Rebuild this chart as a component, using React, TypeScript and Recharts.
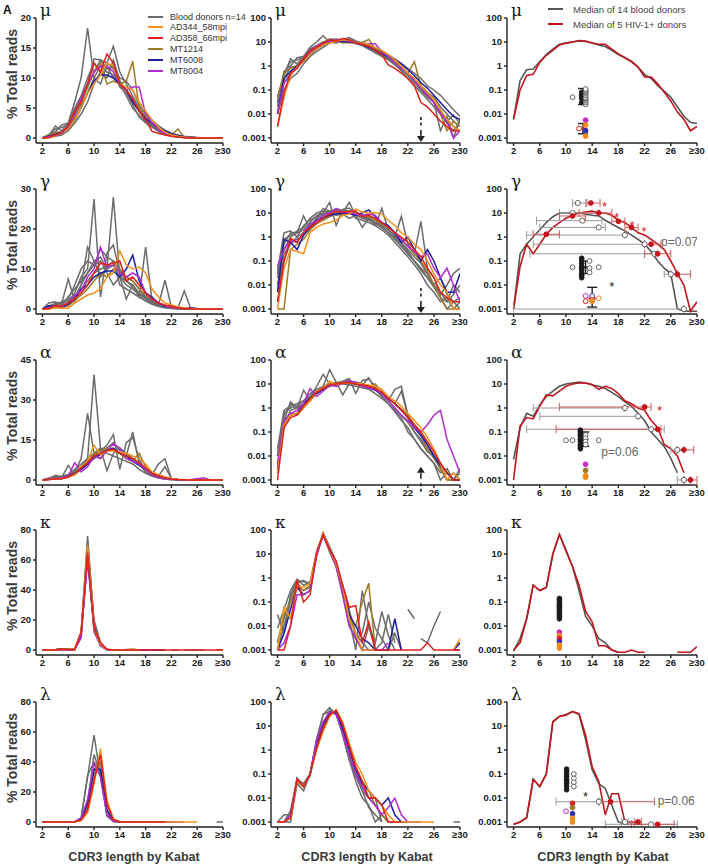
import React from 'react';
import { ComposedChart, Line, XAxis, YAxis, Scatter, ErrorBar, ReferenceDot } from 'recharts';

// CDR3 length (Kabat), last bucket is ">=30"
const lengths = [2, 3, 4, 5, 6, 7, 8, 9, 10, 11, 12, 13, 14, 15, 16, 17, 18, 19, 20, 21, 22, 23, 24, 25, 26, 27, 28, 29, 30];
const xTicks = [2, 6, 10, 14, 18, 22, 26, 30];
const logTicks = [0.001, 0.01, 0.1, 1, 10, 100];

const patients = ['AD344_58mpi', 'AD358_66mpi', 'MT1214', 'MT6008', 'MT8004'];
const patientColors = ['#f0921e', '#e0201b', '#9c7a28', '#1e1ea0', '#b02ed0'];
const drawOrder = [2, 3, 4, 0, 1];
const donorLabel = 'Blood donors n=14';
const donorColor = '#6c6c6c';
const medianLabels = ['Median of 14 blood donors', 'Median of 5 HIV-1+ donors'];
const medianColors = ['#555555', '#c3161c'];

type V = number | null;

// ---------- mu ----------
const muTicks = [0, 5, 10, 15, 20];
const muDonors: V[][] = [
  [0.05, 0.4, 2, 1.2, 2.5, 6, 10, 18.3, 10, 9, 12, 10, 9, 8, 6, 4.5, 3, 2, 1.2, 0.6, 0.3, 0.15, 0.08, 0.04, 0.02, 0.01, 0.006, 0.003, 0.002],
  [0.03, 0.6, 1, 2.2, 2.5, 5, 7, 9, 13.2, 13, 12.5, 15.3, 11, 9, 7, 5, 3.5, 2.5, 1.5, 0.9, 0.5, 0.3, 0.15, 0.08, 0.05, 0.02, 0.01, 0.005, 0.003],
  [0.02, 0.3, 0.9, 1, 2, 4.5, 7, 10, 12.5, 11, 10, 13, 9.5, 8, 6.5, 4.5, 3, 2.2, 1.4, 0.8, 0.4, 0.2, 0.1, 0.05, 0.03, 0.002, 0.008, 0.001, 0.006],
  [0.01, 0.2, 0.5, 0.8, 1.8, 3.5, 6, 8.5, 11, 13, 11.5, 12, 8.5, 7.5, 5.5, 3.5, 2.5, 1.8, 1.1, 0.7, 0.4, 0.25, 0.12, 0.07, 0.03, 0.015, 0.005, 0.009, 0.004],
  [0.03, 0.5, 1.5, 1.8, 2.2, 4, 5.5, 7.5, 10, 12, 11, 10.5, 9, 7, 5, 3.8, 2.8, 2, 1.3, 0.8, 0.4, 0.2, 0.1, 0.06, 0.03, 0.012, 0.004, 0.002, 0.005],
  [0.01, 0.1, 0.3, 0.5, 1.2, 2.5, 4, 6, 9, 11, 12.5, 11.5, 10, 9.5, 8, 5.5, 4, 3, 2, 1.3, 0.8, 0.5, 0.3, 0.15, 0.1, 0.06, 0.03, 0.015, 0.008],
];
const muPatients: V[][] = [
  [0.003, 0.05, 0.4, 0.9, 1.5, 3, 5, 7.5, 9, 10.5, 12.5, 12, 9, 8.5, 8, 6, 4.5, 3, 1.8, 1, 0.5, 0.3, 0.15, 0.08, 0.04, 0.015, 0.006, 0.003, 0.002],
  [0.003, 0.08, 0.5, 0.8, 2, 4.5, 6, 9, 12.5, 11, 14, 12.5, 9, 8, 6.5, 4.5, 3, 1.1, 0.8, 0.5, 0.3, 0.15, 0.03, 0.02, 0.01, 0.005, 0.003, 0.002, 0.002],
  [0.05, 0.5, 0.8, 1, 2, 3.5, 6, 8.5, 11, 12.5, 9, 9.5, 9, 9.5, 12.8, 5, 3.5, 2.5, 1.5, 0.8, 0.5, 1.5, 0.15, 0.08, 0.03, 0.01, 0.002, 0.005, 0.003],
  [0.01, 0.3, 0.6, 1, 1.5, 3, 5, 7.5, 9.5, 10.5, 10.5, 10, 9, 8, 6, 4.5, 3.2, 2.5, 1.8, 1.2, 0.7, 0.4, 0.2, 0.12, 0.06, 0.03, 0.015, 0.008, 0.006],
  [0.01, 0.2, 0.4, 0.9, 2, 4, 6.5, 9, 11, 12, 12, 11, 9, 8, 8.5, 8.5, 4, 2.5, 1.3, 0.8, 0.5, 0.25, 0.12, 0.06, 0.03, 0.01, 0.005, 0.001, 0.002],
];
const muMedianDonors: V[] = [0.006, 0.25, 0.7, 0.75, 1.5, 3, 5, 8, 9, 10, 11, 10.5, 9, 7.5, 6.5, 4.5, 3, 2.2, 1.6, 0.9, 0.45, 0.3, 0.15, 0.09, 0.05, 0.02, 0.008, 0.0045, 0.004];
const muMedianHiv: V[] = [0.006, 0.1, 0.4, 0.45, 1.4, 2.8, 4.5, 7.5, 9, 10, 11.5, 11, 9, 8, 8, 5, 3.2, 2.2, 1.5, 0.9, 0.35, 0.35, 0.18, 0.08, 0.035, 0.012, 0.006, 0.002, 0.003];
const muOpen = [
  { x: 13, y: 0.025 }, { x: 13, y: 0.03 }, { x: 13, y: 0.035 }, { x: 13, y: 0.04 }, { x: 13, y: 0.045 }, { x: 13, y: 0.05 },
  { x: 13, y: 0.06 }, { x: 13, y: 0.07 }, { x: 13, y: 0.08 }, { x: 13, y: 0.09 }, { x: 13, y: 0.1 }, { x: 13, y: 0.11 }, { x: 11, y: 0.05 },
];
const muDense = [{ x: 12.4, y: 0.03 }, { x: 12.4, y: 0.045 }, { x: 12.4, y: 0.06 }, { x: 12.4, y: 0.08 }];
const muDots = [
  { x: 13, y: 0.0055, c: '#c030c0' }, { x: 13, y: 0.0035, c: '#f08a1e' }, { x: 13, y: 0.002, c: '#3030b0' },
  { x: 13, y: 0.0012, c: '#f08a1e' }, { x: 12, y: 0.0025, c: '#e02020', open: true },
];
const muSd = [{ x: 12.6, y: 0.055, lo: 0.025, hi: 0.115, c: '#111' }, { x: 12.6, y: 0.0025, lo: 0.0015, hi: 0.004, c: '#e02020' }];

// ---------- gamma ----------
const gaTicks = [0, 10, 20, 30];
const gaDonors: V[][] = [
  [0.02, 0.5, 1.5, 1.5, 7.5, 2, 6, 15.5, 12, 8, 10, 11, 8, 7, 6, 4, 2.5, 1.5, 0.8, 0.5, 0.25, 0.1, 0.05, 0.02, 0.01, 0.005, 0.002, 0.01, 0.005],
  [0.01, 0.3, 1, 1.5, 2, 4, 8, 10, 27.5, 3, 14, 16, 9, 7, 5.5, 4, 3, 2, 1, 0.5, 0.2, 0.1, 0.05, 0.03, 0.01, 0.003, 0.001, 0.002, 0.003],
  [0.005, 0.2, 0.5, 1, 1.5, 3, 6, 9, 12, 13, 10, 28, 8, 2.5, 6, 3, 15.5, 2, 1, 7.2, 0.5, 0.2, 4.5, 0.05, 0.02, 0.004, 0.01, 0.03, 0.05],
  [0.03, 0.8, 1.2, 1.8, 2.5, 6, 10, 12, 11, 15, 13, 12, 6, 5, 4, 3, 2, 1.2, 0.6, 0.3, 0.15, 0.07, 0.03, 0.01, 0.005, 0.002, 0.003, 0.001, 0.002],
  [0.002, 0.1, 0.6, 0.8, 1.2, 2.5, 5, 7, 9, 10, 10.5, 12, 9.5, 8, 7, 5, 3, 2, 1.2, 0.6, 0.3, 0.15, 0.08, 0.03, 0.01, 0.02, 0.004, 0.002, 0.001],
  [0.04, 1.5, 1.8, 1, 3, 5, 7, 9, 11, 12, 9, 6, 8, 6, 5, 3.5, 2.5, 1.5, 0.8, 0.4, 0.2, 0.1, 0.04, 0.02, 0.008, 0.003, 0.002, 0.004, 0.01],
];
const gaPatients: V[][] = [
  [0.001, 0.05, 0.3, 0.25, 0.2, 1.5, 2.5, 3.5, 4, 5, 8, 9, 14.5, 11, 10, 10.5, 9, 5, 3, 1.5, 1, 0.5, 0.3, 0.1, 0.03, 0.01, 0.005, 0.001, 0.001],
  [0.002, 0.1, 0.9, 0.6, 1.5, 2.5, 4, 6, 9, 11.5, 11, 11.5, 12, 7, 8, 6, 4, 2.5, 1.5, 1, 0.6, 0.3, 0.15, 0.05, 0.02, 0.005, 0.003, 0.002, 0.002],
  [0.001, 0.001, 0.3, 0.5, 0.8, 2, 3.5, 5, 7, 9, 8, 10, 10, 8, 7, 5, 3.5, 2.5, 1.5, 0.8, 0.4, 0.2, 0.1, 0.04, 0.01, 0.003, 0.001, 0.001, 0.001],
  [0.005, 0.8, 0.6, 0.3, 1.2, 2.5, 5, 6, 8, 9, 9.5, 9.5, 8, 10, 13.5, 7, 4, 3, 1.5, 0.6, 1, 0.3, 0.1, 0.3, 0.1, 0.02, 0.005, 0.005, 0.03],
  [0.06, 0.3, 0.7, 0.6, 1.5, 3.5, 4.5, 8, 10, 15.5, 10.5, 11, 9, 8, 9, 8, 4, 2.5, 1.5, 0.8, 0.4, 0.25, 0.15, 0.2, 0.05, 0.02, 0.05, 0.01, 0.002],
];
const gaMedianDonors: V[] = [0.001, 0.2, 0.5, 1, 2, 4, 7, 10, 10, 10, 10, 9, 8, 7.5, 5, 3.5, 2.5, 1.8, 1.2, 0.8, 0.5, 0.25, 0.1, 0.05, 0.03, 0.001, 0.0008, 0.0008, 0.0008];
const gaMedianHiv: V[] = [0.001, 0.06, 0.5, 0.2, 0.5, 1.3, 2.5, 4, 6, 8, 10, 11, 12, 10, 10, 8, 5, 4, 2.5, 1.5, 1.2, 0.8, 0.5, 0.3, 0.1, 0.03, 0.01, 0.0008, 0.002];
const gaOpen = [{ x: 11, y: 0.055 }, { x: 13.6, y: 0.1 }, { x: 13.6, y: 0.05 }, { x: 13.6, y: 0.033 }, { x: 15, y: 0.055 }];
const gaDense = [
  { x: 12.4, y: 0.02 }, { x: 12.4, y: 0.025 }, { x: 12.4, y: 0.03 }, { x: 12.4, y: 0.04 }, { x: 12.4, y: 0.05 },
  { x: 12.4, y: 0.06 }, { x: 12.4, y: 0.08 }, { x: 12.4, y: 0.1 }, { x: 12.4, y: 0.13 },
];
const gaDots = [
  { x: 13, y: 0.0035, c: '#c030c0', open: true }, { x: 13, y: 0.0021, c: '#e02020', open: true },
  { x: 14, y: 0.0035, c: '#3030b0', open: true }, { x: 14, y: 0.0024, c: '#e02020', open: true },
  { x: 14, y: 0.0021, c: '#f08a1e' }, { x: 15, y: 0.0028, c: '#f08a1e', open: true },
];
const gaSd = [{ x: 13, y: 0.055, lo: 0.03, hi: 0.1, c: '#111' }, { x: 14, y: 0.0028, lo: 0.0012, hi: 0.008, c: '#e02020' }];
const gaGrayMarks = [
  { x: 11.8, y: 26, lo: 11, hi: 13 }, { x: 11, y: 10, lo: 9, hi: 15 }, { x: 12.5, y: 4.8, lo: 5.5, hi: 15.5 },
  { x: 15, y: 2.5, lo: 6, hi: 16 }, { x: 19, y: 1.2, lo: 4, hi: 19 }, { x: 22, y: 0.5, lo: 5, hi: 22 },
  { x: 23.5, y: 0.2, lo: 4.5, hi: 24 }, { x: 26, y: 0.028, lo: 25, hi: 27 }, { x: 28, y: 0.001, lo: 2, hi: 28 },
];
const gaRedMarks = [
  { x: 13.8, y: 26, lo: 13.2, hi: 15.2 }, { x: 11, y: 7.5, lo: 9, hi: 13 }, { x: 15, y: 10, lo: 12, hi: 17 },
  { x: 18, y: 4.5, lo: 17, hi: 19 }, { x: 20, y: 2.5, lo: 19, hi: 21 }, { x: 7, y: 1.3, lo: 5, hi: 9 },
  { x: 23, y: 0.5, lo: 22, hi: 24.5 }, { x: 24, y: 0.2, lo: 22, hi: 26 }, { x: 27, y: 0.028, lo: 26, hi: 29 },
];
const gaNotes = [
  { x: 15.9, y: 26, t: '*', c: '#d0201c' }, { x: 17.7, y: 9, t: '*', c: '#d0201c' }, { x: 20.1, y: 4.3, t: '*', c: '#d0201c' },
  { x: 21.9, y: 2.3, t: '*', c: '#d0201c' }, { x: 17, y: 0.012, t: '*', c: '#222' }, { x: 24.5, y: 0.65, t: 'p=0.07', c: '#666' },
];

// ---------- alpha ----------
const alTicks = [0, 15, 30, 45];
const alDonors: V[][] = [
  [0.01, 0.5, 1.5, 1, 1.5, 3, 8, 25, 10, 8, 12, 11, 10, 9, 18, 6, 3, 1.5, 0.8, 0.4, 0.1, 0.05, 0.02, 0.01, 0.005, 0.002, 0.003, 0.001, 0.001],
  [0.005, 0.3, 1.8, 1, 5.5, 2, 5, 8, 39.5, 12, 10, 9, 8, 7, 6, 4, 2.5, 1.5, 0.7, 0.3, 0.15, 0.05, 0.02, 0.01, 0.005, 0.001, 0.002, 0.001, 0.002],
  [0.02, 0.8, 1.2, 1.5, 2, 3, 5, 7, 9, 11, 13, 17, 4, 14, 16, 8, 3, 2, 6, 8, 0.5, 0.1, 0.05, 0.02, 0.008, 0.003, 0.001, 0.002, 0.001],
  [0.01, 0.6, 1, 1.2, 2, 4, 6, 8, 10, 12, 3.5, 10, 12, 10, 8, 6, 4, 2.5, 1.5, 5, 0.5, 0.2, 0.1, 0.03, 0.01, 0.005, 0.002, 0.001, 0.003],
  [0.003, 0.2, 0.8, 1, 1.5, 2.5, 4.5, 6, 8, 10, 12, 14, 11, 10, 8, 6, 4, 2, 1, 0.5, 0.25, 0.1, 0.04, 0.015, 0.01, 0.003, 0.001, 0.001, 0.001],
];
const alPatients: V[][] = [
  [0.002, 0.2, 0.5, 0.6, 1, 2, 5, 7, 13, 9.5, 11, 11, 10.5, 10, 9, 8, 6, 3, 2, 1.2, 0.6, 0.3, 0.15, 0.06, 0.02, 0.005, 0.001, 0.002, 0.001],
  [0.001, 0.15, 0.4, 0.5, 1.2, 2.5, 4.5, 6.5, 9, 10, 11, 11.5, 10, 9, 8, 6.5, 4.5, 2.5, 1.5, 0.8, 0.4, 0.2, 0.1, 0.04, 0.015, 0.005, 0.002, 0.001, 0.001],
  [0.003, 0.3, 0.6, 0.5, 1, 2, 4, 6, 10, 11, 12, 11, 10, 8, 7, 10, 5, 2.5, 1.5, 0.9, 0.5, 0.2, 0.08, 0.02, 0.01, 0.003, 0.001, 0.001, 0.001],
  [0.002, 0.2, 0.5, 0.6, 1.5, 2.5, 4, 6, 8.5, 9.5, 11, 12, 10, 9, 7, 5.5, 4, 2.5, 1.5, 0.8, 0.4, 0.15, 0.07, 0.03, 0.01, 0.004, 0.002, 0.001, 0.001],
  [0.004, 0.3, 0.6, 0.8, 1.5, 6.5, 3, 5, 9, 8, 11, 13.5, 12, 8, 7, 6, 4, 2, 1, 0.5, 0.3, 0.15, 0.1, 0.2, 0.5, 0.8, 0.05, 0.01, 0.002],
];
const alMedianDonors: V[] = [0.007, 0.15, 0.6, 0.45, 1.3, 3, 5, 8, 10, 11, 12, 11, 9, 8, 6.5, 4.5, 3, 1.8, 1.2, 0.6, 0.3, 0.1, 0.05, 0.025, 0.008, 0.002, null, null, null];
const alMedianHiv: V[] = [0.001, 0.18, 0.4, 0.35, 1.2, 3.5, 3.2, 5, 8, 10, 11, 11, 9.5, 6, 8, 6.5, 4, 2, 1.5, 1, 0.8, 0.3, 0.15, 0.03, 0.02, 0.01, 0.002, null, null];
const alOpen = [{ x: 10, y: 0.045 }, { x: 11, y: 0.045 }, { x: 13, y: 0.075 }, { x: 13, y: 0.055 }, { x: 13, y: 0.04 }, { x: 13, y: 0.03 }, { x: 15, y: 0.045 }];
const alDense = [
  { x: 12.2, y: 0.02 }, { x: 12.2, y: 0.025 }, { x: 12.2, y: 0.03 }, { x: 12.2, y: 0.04 }, { x: 12.2, y: 0.05 },
  { x: 12.2, y: 0.065 }, { x: 12.2, y: 0.08 }, { x: 12.2, y: 0.1 }, { x: 12.2, y: 0.12 },
];
const alDots = [
  { x: 13, y: 0.0045, c: '#c030c0' }, { x: 13, y: 0.0025, c: '#9c7a28' }, { x: 13, y: 0.0015, c: '#f08a1e' }, { x: 13, y: 0.0013, c: '#f08a1e' },
];
const alSd = [{ x: 12.8, y: 0.05, lo: 0.025, hi: 0.1, c: '#111' }];
const alGrayMarks = [
  { x: 19, y: 1, lo: 5, hi: 19 }, { x: 21, y: 0.45, lo: 6, hi: 21 }, { x: 23, y: 0.13, lo: 4, hi: 25 },
  { x: 27, y: 0.018, lo: 26, hi: 28 }, { x: 28, y: 0.001, lo: 27, hi: 29 },
];
const alRedMarks = [
  { x: 22, y: 1.1, lo: 9, hi: 23 }, { x: 24, y: 0.13, lo: 8.5, hi: 24.5 }, { x: 28, y: 0.018, lo: 27, hi: 29.5 }, { x: 29, y: 0.001, lo: 28, hi: 30 },
];
const alNotes = [{ x: 24.3, y: 1.1, t: '*', c: '#d0201c' }, { x: 15.4, y: 0.0144, t: 'p=0.06', c: '#666' }];

// ---------- kappa ----------
const kaTicks = [0, 20, 40, 60, 80];
const kaDonors: V[][] = [
  [0.03, 0.005, 0.2, 0.8, 0.7, 0.6, 12, 76, 18, 4, 0.5, 0.05, 0.003, 0.001, 0.01, 0.002, 0.04, 0.004, 0.001, null, 0.05, 0.02, null, null, null, null, null, null, null],
  [0.002, 0.02, 0.15, 0.6, 0.8, 0.5, 10, 70, 20, 5, 0.4, 0.02, 0.001, 0.3, 0.01, 0.001, 0.002, 0.03, 0.002, null, null, null, null, 0.002, 0.01, 0.04, null, null, null],
  [0.008, 0.05, 0.3, 0.9, 0.5, 0.7, 11, 65, 12, 3, 0.2, 0.01, 0.003, 0.005, 0.1, 0.008, 0.003, 0.001, 0.005, 0.001, null, null, null, null, null, null, null, 0.001, 0.002],
  [0.001, 0.01, 0.1, 0.4, 0.3, 0.4, 9, 72, 15, 3, 0.3, 0.04, 0.005, 0.002, 0.001, 0.001, null, null, null, null, null, null, 0.003, 0.002, null, null, null, null, 0.001],
];
const kaPatients: V[][] = [
  [0.001, 0.06, 0.02, 0.5, 0.4, 0.6, 12, 70, 15, 4, 0.4, 0.02, 0.005, 0.001, 0.001, 0.001, null, null, null, null, null, null, null, null, null, null, null, 0.001, 0.003],
  [0.001, 0.001, 0.01, 0.8, 0.1, 0.2, 12, 65, 15, 5, 0.5, 0.06, 0.07, 0.002, 0.015, 0.001, 0.001, 0.001, 0.001, 0.001, 0.001, 0.001, 0.001, 0.002, 0.001, 0.001, 0.001, 0.001, 0.001],
  [0.002, 0.03, 0.1, 0.5, 0.3, 0.5, 11, 68, 14, 3, 0.3, 0.02, 0.01, 0.1, 0.6, 0.001, null, null, null, null, null, null, null, null, null, null, null, null, null],
  [0.001, 0.005, 0.05, 0.4, 0.2, 0.3, 10, 60, 15, 3.5, 0.3, 0.03, 0.01, 0.003, 0.002, 0.001, 0.001, 0.001, 0.02, 0.001, null, null, null, null, null, null, null, 0.001, 0.002],
  [0.001, 0.002, 0.01, 0.2, 0.2, 0.3, 8, 62, 14, 3, 0.2, 0.01, 0.003, 0.001, 0.001, 0.001, 0.001, 0.002, null, null, null, null, null, null, null, null, null, 0.001, 0.001],
];
const kaMedianDonors: V[] = [0.0009, 0.003, 0.02, 0.5, 0.3, 0.4, 10, 65, 15, 3, 0.3, 0.025, 0.01, 0.003, 0.002, 0.001, 0.0008, null, null, null, null, null, null, null, null, null, null, null, null];
const kaMedianHiv: V[] = [0.001, 0.002, 0.02, 0.5, 0.3, 0.4, 10, 65, 13, 3, 0.5, 0.04, 0.015, 0.0015, 0.0015, 0.001, 0.0008, 0.0008, 0.001, 0.0008, 0.0008, null, null, null, null, 0.0008, 0.0008, 0.0008, 0.0014];
const kaOpen: { x: number; y: number }[] = [];
const kaDense = [
  { x: 9, y: 0.02 }, { x: 9, y: 0.025 }, { x: 9, y: 0.03 }, { x: 9, y: 0.035 }, { x: 9, y: 0.04 }, { x: 9, y: 0.05 },
  { x: 9, y: 0.06 }, { x: 9, y: 0.07 }, { x: 9, y: 0.08 }, { x: 9, y: 0.1 }, { x: 9, y: 0.12 }, { x: 9, y: 0.14 },
];
const kaDots = [
  { x: 9, y: 0.0055, c: '#c030c0' }, { x: 9, y: 0.004, c: '#f08a1e' }, { x: 9, y: 0.003, c: '#e02020' },
  { x: 9, y: 0.0022, c: '#3030b0' }, { x: 9, y: 0.0016, c: '#f08a1e' }, { x: 9, y: 0.0012, c: '#f08a1e' },
];

// ---------- lambda ----------
const laTicks = [0, 20, 40, 60, 80];
const laDonors: V[][] = [
  [0.001, 0.001, 0.002, 0.05, 0.03, 0.1, 3, 30, 58, 30, 5, 0.5, 0.1, 0.03, 0.01, 0.005, 0.002, 0.001, null, null, null, null, null, null, null, null, null, 0.001, 0.001],
  [0.001, 0.001, 0.003, 0.07, 0.03, 0.08, 2, 31, 40, 35, 4, 0.4, 0.05, 0.01, 0.005, 0.001, 0.002, 0.001, 0.001, null, null, null, null, null, null, null, null, null, null],
  [0.001, 0.002, 0.002, 0.06, 0.04, 0.1, 1.5, 8, 35, 40, 8, 0.5, 0.1, 0.02, 0.01, 0.01, 0.001, null, null, null, null, null, null, null, null, null, null, null, null],
  [0.001, 0.001, 0.001, 0.04, 0.02, 0.1, 2.5, 12, 45, 32, 5, 0.4, 0.08, 0.02, 0.004, 0.002, 0.001, null, null, null, null, null, null, null, null, null, null, null, null],
];
const laPatients: V[][] = [
  [0.001, 0.001, 0.0015, 0.05, 0.03, 0.1, 1, 6, 25, 49, 15, 2, 0.3, 0.1, 0.02, 0.01, 0.005, 0.002, 0.001, 0.001, 0.001, 0.001, 0.001, 0.001, 0.001, null, null, null, null],
  [0.001, 0.001, 0.0015, 0.06, 0.03, 0.1, 1.2, 8, 28, 45, 12, 1.5, 0.2, 0.05, 0.01, 0.01, 0.005, 0.001, 0.001, 0.001, null, null, null, null, null, null, null, null, null],
  [0.001, 0.001, 0.002, 0.05, 0.03, 0.1, 1.5, 10, 32, 40, 12, 1.5, 0.2, 0.05, 0.02, 0.005, 0.002, 0.001, null, null, null, null, null, null, null, null, null, null, null],
  [0.001, 0.001, 0.002, 0.05, 0.03, 0.1, 2, 12, 35, 35, 8, 1, 0.15, 0.04, 0.02, 0.01, 0.005, 0.01, 0.002, 0.001, 0.001, null, null, null, null, null, null, null, null],
  [0.001, 0.001, 0.002, 0.06, 0.03, 0.1, 2.5, 15, 39, 30, 5, 0.7, 0.1, 0.03, 0.01, 0.005, 0.002, 0.004, 0.01, 0.002, 0.001, 0.001, 0.001, null, null, null, null, null, null],
];
const laMedianDonors: V[] = [0.0008, 0.001, 0.0015, 0.06, 0.03, 0.1, 15, 25, 30, 40, 30, 2.7, 0.15, 0.04, 0.025, 0.005, 0.001, 0.0008, 0.0008, 0.0008, null, null, null, null, null, null, null, null, null];
const laMedianHiv: V[] = [0.0008, 0.001, 0.0015, 0.06, 0.03, 0.1, 15, 25, 28, 40, 33, 4, 0.2, 0.05, 0.002, 0.015, 0.015, 0.001, 0.001, 0.001, null, null, null, null, null, null, null, null, null];
const laOpen = [{ x: 11.2, y: 0.1 }, { x: 11.2, y: 0.065 }, { x: 11.2, y: 0.045 }, { x: 11.2, y: 0.03 }];
const laDense = [
  { x: 10.1, y: 0.022 }, { x: 10.1, y: 0.03 }, { x: 10.1, y: 0.04 }, { x: 10.1, y: 0.05 }, { x: 10.1, y: 0.06 },
  { x: 10.1, y: 0.08 }, { x: 10.1, y: 0.1 }, { x: 10.1, y: 0.13 }, { x: 10.1, y: 0.16 },
];
const laDots = [
  { x: 11, y: 0.006, c: '#e02020' }, { x: 11, y: 0.004, c: '#9c7a28' }, { x: 10, y: 0.0028, c: '#c030c0', open: true },
  { x: 11, y: 0.0022, c: '#3030b0' }, { x: 11, y: 0.0014, c: '#f08a1e' }, { x: 11, y: 0.001, c: '#f08a1e' },
];
const laGrayMarks = [{ x: 15, y: 0.007, lo: 8.5, hi: 15 }, { x: 19, y: 0.001, lo: 18.5, hi: 19.5 }, { x: 23, y: 0.0008, lo: 16, hi: 27 }];
const laRedMarks = [{ x: 16.8, y: 0.007, lo: 15, hi: 23.5 }, { x: 21, y: 0.001, lo: 20.5, hi: 21.5 }, { x: 24, y: 0.0008, lo: 20, hi: 26.5 }];
const laNotes = [{ x: 13, y: 0.016, t: '*', c: '#222' }, { x: 24, y: 0.008, t: 'p=0.06', c: '#666' }];

// col 2 arrows (length 24)
const arrows = [{ x: 24, y: 0.0012, up: false }, { x: 24, y: 0.0012, up: false }, { x: 24, y: 0.002, up: true }, null, null];

type Mark = { x: number; y: number; lo: number; hi: number };
type Dot = { x: number; y: number; c: string; open?: boolean };
type Note = { x: number; y: number; t: string; c: string };
type Sd = { x: number; y: number; lo: number; hi: number; c: string };

const chains = [
  { label: 'μ', linTicks: muTicks, donors: muDonors, pats: muPatients, medD: muMedianDonors, medH: muMedianHiv, open: muOpen, dense: muDense, dots: muDots as Dot[], sd: muSd as Sd[], gray: [] as Mark[], red: [] as Mark[], notes: [] as Note[] },
  { label: 'γ', linTicks: gaTicks, donors: gaDonors, pats: gaPatients, medD: gaMedianDonors, medH: gaMedianHiv, open: gaOpen, dense: gaDense, dots: gaDots as Dot[], sd: gaSd as Sd[], gray: gaGrayMarks, red: gaRedMarks, notes: gaNotes },
  { label: 'α', linTicks: alTicks, donors: alDonors, pats: alPatients, medD: alMedianDonors, medH: alMedianHiv, open: alOpen, dense: alDense, dots: alDots as Dot[], sd: alSd as Sd[], gray: alGrayMarks, red: alRedMarks, notes: alNotes },
  { label: 'κ', linTicks: kaTicks, donors: kaDonors, pats: kaPatients, medD: kaMedianDonors, medH: kaMedianHiv, open: kaOpen, dense: kaDense, dots: kaDots as Dot[], sd: [] as Sd[], gray: [] as Mark[], red: [] as Mark[], notes: [] as Note[] },
  { label: 'λ', linTicks: laTicks, donors: laDonors, pats: laPatients, medD: laMedianDonors, medH: laMedianHiv, open: laOpen, dense: laDense, dots: laDots as Dot[], sd: [] as Sd[], gray: laGrayMarks, red: laRedMarks, notes: laNotes },
];

// layout
const W = 236;
const COL_LEFT = [0, 236, 472];
const Y_AXIS_W = [36, 35, 35];
const MARGIN_R = [13, 12, 11];
const ROW_TOP = [17.5, 189, 359.5, 529.5, 701.5];
const TOP_PAD = 10;
const PLOT_H = 125;
const X_AXIS_H = 22;
const H = TOP_PAD + PLOT_H + X_AXIS_H + 2;
const LOG_DOMAIN: [number, number] = [0.000618, 100];
const FONT = '"Liberation Sans", Arial, sans-serif';
const tickStyle = { fontSize: 9.5, fontWeight: 700, fill: '#1a1a1a', fontFamily: FONT };
const axisStroke = { stroke: '#222', strokeWidth: 1.4 };

function tableFor(c: (typeof chains)[number]) {
  return lengths.map((x, i) => {
    const r: Record<string, V> = { x };
    c.donors.forEach((d, j) => (r['d' + j] = d[i]));
    c.pats.forEach((p, j) => (r['p' + j] = p[i]));
    r.gm = c.medD[i];
    r.rm = c.medH[i];
    return r;
  });
}

const openShape = (stroke: string, r: number) => (p: any) => (
  <circle cx={p.cx} cy={p.cy} r={r} fill="#fff" stroke={stroke} strokeWidth={0.9} />
);
const denseShape = (p: any) => <circle cx={p.cx} cy={p.cy} r={2.4} fill="#1a1a1a" stroke="#1a1a1a" strokeWidth={0.8} />;
const dotShape = (p: any) => (
  <circle cx={p.cx} cy={p.cy} r={2.4} fill={p.payload.open ? '#fff' : p.payload.c} stroke={p.payload.c} strokeWidth={1} />
);
const redShape = (p: any) => <circle cx={p.cx} cy={p.cy} r={2.4} fill="#c3161c" stroke="#c3161c" />;
const meanShape = (p: any) => (
  <line x1={p.cx - 4} x2={p.cx + 4} y1={p.cy} y2={p.cy} stroke={p.payload.c} strokeWidth={1.5} />
);
const noteShape = (p: any) => {
  const star = p.payload.t === '*';
  return (
    <text x={p.cx} y={p.cy} dy={star ? '0.6em' : '0.35em'} textAnchor={star ? 'middle' : 'start'}
      fill={p.payload.c} fontSize={star ? 13 : 12} fontFamily={FONT}>
      {p.payload.t}
    </text>
  );
};
const arrowShape = (up: boolean) => (p: any) => {
  const { cx, cy } = p;
  const s = up ? -1 : 1;
  return (
    <g>
      <line x1={cx} x2={cx} y1={cy - s * 19} y2={cy - s * 8} stroke="#222" strokeWidth={1.6} strokeDasharray="3 2.5" />
      <line x1={cx} x2={cx} y1={cy - s * 6} y2={cy} stroke="#222" strokeWidth={1.6} />
      <path d={`M${cx - 4},${cy} L${cx + 4},${cy} L${cx},${cy + s * 6} Z`} fill="#222" />
    </g>
  );
};

function Panel({ row, col }: { row: number; col: number }) {
  const c = chains[row];
  const log = col > 0;
  const linMax = c.linTicks[c.linTicks.length - 1];
  const data = tableFor(c);
  const arrow = col === 1 ? arrows[row] : null;
  return (
    <div style={{ position: 'absolute', left: COL_LEFT[col], top: ROW_TOP[row] - TOP_PAD }}>
      <ComposedChart width={W} height={H} data={data} margin={{ top: TOP_PAD, right: MARGIN_R[col], bottom: 2, left: 0 }}>
        <XAxis type="number" dataKey="x" domain={[1, 30]} allowDataOverflow ticks={xTicks} interval={0}
          tickFormatter={(v: number) => (v === 30 ? '≥30' : String(v))} height={X_AXIS_H}
          tick={tickStyle} tickSize={3} tickMargin={1} axisLine={axisStroke} tickLine={axisStroke} />
        <YAxis type="number" scale={log ? 'log' : 'linear'} domain={log ? LOG_DOMAIN : [(-linMax * 5) / 120, linMax]}
          allowDataOverflow ticks={log ? logTicks : c.linTicks} interval={0} width={Y_AXIS_W[col]}
          tickFormatter={(v: number) => String(v)} tick={tickStyle} tickSize={3} tickMargin={2}
          axisLine={axisStroke} tickLine={axisStroke} />
        {col < 2 && c.donors.map((_, j) => (
          <Line key={'d' + j} dataKey={'d' + j} stroke={donorColor} strokeWidth={1.5} dot={false} isAnimationActive={false} />
        ))}
        {col < 2 && drawOrder.map((j) => (
          <Line key={'p' + j} dataKey={'p' + j} stroke={patientColors[j]} strokeWidth={1.5} dot={false} isAnimationActive={false} />
        ))}
        {col === 2 && <Line dataKey="gm" stroke={medianColors[0]} strokeWidth={1.6} dot={false} isAnimationActive={false} />}
        {col === 2 && <Line dataKey="rm" stroke={medianColors[1]} strokeWidth={1.6} dot={false} isAnimationActive={false} />}
        {col === 2 && c.gray.length > 0 && (
          <Scatter data={c.gray.map((m) => ({ x: m.x, y: m.y, ex: [m.x - m.lo, m.hi - m.x] }))} dataKey="y"
            shape={openShape('#555', 2.6)} isAnimationActive={false}>
            <ErrorBar dataKey="ex" direction="x" width={4} stroke="#9a9a9a" strokeWidth={1} />
          </Scatter>
        )}
        {col === 2 && c.red.length > 0 && (
          <Scatter data={c.red.map((m) => ({ x: m.x, y: m.y, ex: [m.x - m.lo, m.hi - m.x] }))} dataKey="y"
            shape={redShape} isAnimationActive={false}>
            <ErrorBar dataKey="ex" direction="x" width={4} stroke="#cf5a5a" strokeWidth={1} />
          </Scatter>
        )}
        {col === 2 && c.sd.length > 0 && (
          <Scatter data={c.sd.map((s) => ({ x: s.x, y: s.y, c: s.c, ey: [s.y - s.lo, s.hi - s.y] }))} dataKey="y"
            shape={meanShape} isAnimationActive={false}>
            <ErrorBar dataKey="ey" direction="y" width={5} stroke="#222" strokeWidth={1.4} />
          </Scatter>
        )}
        {col === 2 && <Scatter data={c.dense} dataKey="y" shape={denseShape} isAnimationActive={false} />}
        {col === 2 && c.open.length > 0 && <Scatter data={c.open} dataKey="y" shape={openShape('#555', 2.4)} isAnimationActive={false} />}
        {col === 2 && <Scatter data={c.dots} dataKey="y" shape={dotShape} isAnimationActive={false} />}
        {col === 2 && c.notes.length > 0 && <Scatter data={c.notes} dataKey="y" shape={noteShape} isAnimationActive={false} />}
        {arrow && <ReferenceDot x={arrow.x} y={arrow.y} shape={arrowShape(arrow.up)} />}
      </ComposedChart>
    </div>
  );
}

const textBase: React.CSSProperties = { position: 'absolute', fontFamily: FONT, whiteSpace: 'nowrap' };

function Legends() {
  const rows = [{ name: donorLabel, color: donorColor }, ...patients.map((p, i) => ({ name: p, color: patientColors[i] }))];
  return (
    <>
      {rows.map((r, i) => (
        <div key={r.name} style={{ ...textBase, left: 148, top: 11 + i * 10.8, height: 11, display: 'flex', alignItems: 'center', fontSize: 9, color: '#333' }}>
          <span style={{ display: 'inline-block', width: 15, height: 2, background: r.color, marginRight: 7 }} />
          {r.name}
        </div>
      ))}
      {medianLabels.map((m, i) => (
        <div key={m} style={{ ...textBase, left: 548, top: 3 + i * 15, height: 12, display: 'flex', alignItems: 'center', fontSize: 9.5, color: '#444' }}>
          <span style={{ display: 'inline-block', width: 15, height: 2, background: medianColors[i], marginRight: 10 }} />
          {m}
        </div>
      ))}
    </>
  );
}

export default function App() {
  const rowIdx = [0, 1, 2, 3, 4];
  const colIdx = [0, 1, 2];
  return (
    <div style={{ position: 'absolute', left: 0, top: 0, width: 708, height: 867, background: '#fff', overflow: 'hidden' }}>
      {rowIdx.map((r) => colIdx.map((c) => <Panel key={r + '-' + c} row={r} col={c} />))}
      {rowIdx.map((r) => colIdx.map((c) => (
        <div key={'g' + r + c} style={{ position: 'absolute', left: COL_LEFT[c] + Y_AXIS_W[c] + 4, top: ROW_TOP[r] - 17,
          fontFamily: '"DejaVu Serif", serif', fontSize: 17, color: '#1a1a1a', lineHeight: '18px' }}>
          {chains[r].label}
        </div>
      )))}
      {rowIdx.map((r) => (
        <div key={'yl' + r} style={{ ...textBase, left: 12, top: ROW_TOP[r] + 56, fontSize: 14, fontWeight: 700, color: '#3a3a3a',
          transform: 'translate(-50%, -50%) rotate(-90deg)' }}>
          % Total reads
        </div>
      ))}
      {[134, 367, 603].map((cx) => (
        <div key={'xl' + cx} style={{ ...textBase, left: cx, top: 857, fontSize: 12.5, fontWeight: 700, color: '#3a3a3a',
          transform: 'translate(-50%, -50%)' }}>
          CDR3 length by Kabat
        </div>
      ))}
      <div style={{ ...textBase, left: 3, top: 3, fontSize: 12, fontWeight: 700, color: '#111' }}>A</div>
      <Legends />
    </div>
  );
}
